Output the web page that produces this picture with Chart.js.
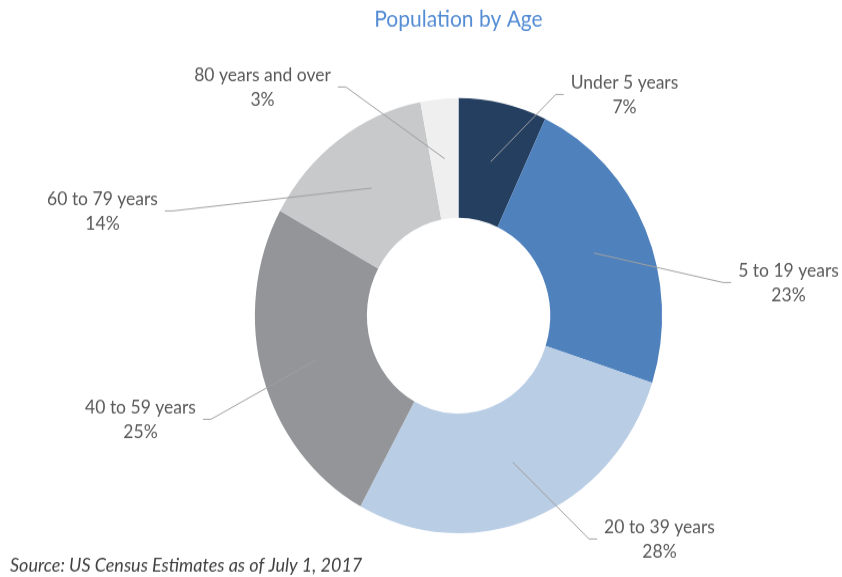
<!DOCTYPE html>
<html>
<head>
<meta charset="utf-8">
<title>Population by Age</title>
<script src="https://cdn.jsdelivr.net/npm/chart.js@4.4.0/dist/chart.umd.min.js"></script>
<style>
    html, body { margin: 0; padding: 0; background: #fff; }
    body { width: 842px; height: 577px; overflow: hidden; }
    /* the ring is drawn a little taller than wide */
    #wrap { width: 842px; height: 540px; transform: scaleY(1.0685); transform-origin: 0 0; }
</style>
</head>
<body>
<div id="wrap"><canvas id="donatUsia" width="842" height="540"></canvas></div>
<script>
const ageGroups = ['Under 5 years', '5 to 19 years', '20 to 39 years', '40 to 59 years', '60 to 79 years', '80 years and over'];
const sharePct = [7, 23, 28, 25, 14, 3];
const sliceColors = ['#243F60', '#4F81BD', '#B9CDE5', '#939598', '#C8C9CB', '#EFEFEF'];
const sourceNote = 'Source: US Census Estimates as of July 1, 2017';

// label block centres, relative to the middle of the ring
const labelOffsets = [[166, -207], [330, -31], [201, 209], [-318, 97], [-356, -98], [-196, -214]];

//Label dengan garis penunjuk + catatan sumber
const leaderLabels = {
    id: 'leaderLabels',
    afterDatasetsDraw(chart) {
        const ctx = chart.ctx;
        const area = chart.chartArea;
        const cx = (area.left + area.right) / 2;
        const cy = (area.top + area.bottom) / 2;
        const arcs = chart.getDatasetMeta(0).data;
        ctx.save();
        ctx.font = '17.5px Lato';
        ctx.textBaseline = 'middle';
        ctx.textAlign = 'center';
        arcs.forEach((arc, i) => {
            const lines = [ageGroups[i], sharePct[i] + '%'];
            const bx = cx + labelOffsets[i][0];
            const by = cy + labelOffsets[i][1];
            const w = Math.max(...lines.map(t => ctx.measureText(t).width));
            const side = bx > cx ? -1 : 1;
            const ex = bx + side * (w / 2 + 7);
            const p = arc.getCenterPoint();
            ctx.beginPath();
            ctx.moveTo(p.x, p.y);
            ctx.lineTo(ex + side * 8, by);
            ctx.lineTo(ex, by);
            ctx.strokeStyle = '#A0A0A0';
            ctx.lineWidth = 1;
            ctx.stroke();
            ctx.fillStyle = '#595959';
            ctx.fillText(lines[0], bx, by - 11.5);
            ctx.fillText(lines[1], bx, by + 11.5);
        });
        ctx.font = 'italic 18px Lato';
        ctx.textAlign = 'left';
        ctx.fillStyle = '#404040';
        ctx.fillText(sourceNote, 10, 529);
        ctx.restore();
    }
};

document.addEventListener('DOMContentLoaded', function() {
    const ctx = document.getElementById('donatUsia').getContext('2d');
    const data = {
        labels: ageGroups,
        datasets: [{
            data: sharePct,
            backgroundColor: sliceColors,
            borderWidth: 0,
            hoverOffset: 0
        }]
    };
    const config = {
        type: 'doughnut',
        data: data,
        options: {
            responsive: false,
            animation: false,
            cutout: '45%',
            layout: {
                padding: { top: 0, bottom: 41, left: 75, right: 0 }
            },
            plugins: {
                legend: { display: false },
                tooltip: { enabled: false },
                title: {
                    display: true,
                    text: 'Population by Age',
                    color: '#548DD4',
                    font: { family: 'Lato', size: 21, weight: 'normal' },
                    padding: { top: 6, bottom: 60.6 }
                }
            }
        },
        plugins: [leaderLabels]
    };
    new Chart(ctx, config);
});
</script>
</body>
</html>
